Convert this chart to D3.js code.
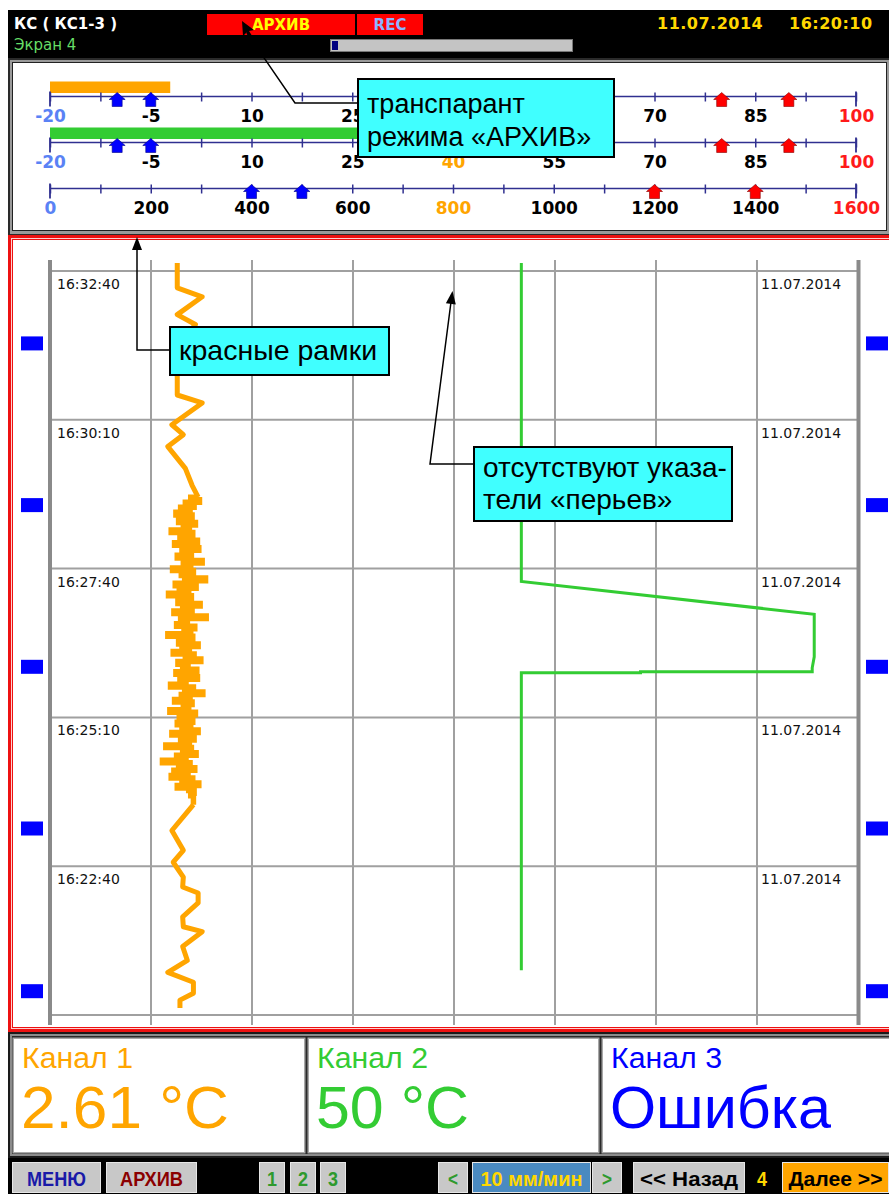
<!DOCTYPE html>
<html><head><meta charset="utf-8">
<script src="https://cdn.jsdelivr.net/npm/d3@7"></script>
<style>body{margin:0;background:#fff}svg{display:block}</style>
</head><body><svg id="c" width="889" height="1194"></svg>
<script>
// ---------------- DATA ----------------
const headerTitle = "КС ( КС1-3 )";
const headerScreen = "Экран 4";
const headerDate = "11.07.2014";
const headerTime = "16:20:10";

// bar scales (top panel)
const scaleDomains = [[-20, 100], [-20, 100], [0, 1600]];
const scaleLabels = [
  [-20, -5, 10, 25, 40, 55, 70, 85, 100],
  [-20, -5, 10, 25, 40, 55, 70, 85, 100],
  [0, 200, 400, 600, 800, 1000, 1200, 1400, 1600]
];
const scaleMinorStep = [7.5, 7.5, 100];
const lowSetpoints = [[-10, -5], [-10, -5], [400, 500]];
const highSetpoints = [[80, 90], [80, 90], [1200, 1400]];
const barValues = [-2.1, 50];            // channel bars (scale 1, scale 2)
const barColors = ["#ffa500", "#33cc33"];

// trend chart
const valueDomain = [-20, 100];
const gridValues = [-5, 10, 25, 40, 55, 70, 85];
const rowTimes = [0, 150, 300, 450, 600, 750];            // seconds after 16:20:10
const rowLabelTimes = [750, 600, 450, 300, 150];
const rowTimeLabels = ["16:32:40", "16:30:10", "16:27:40", "16:25:10", "16:22:40"];
const rowDateLabel = "11.07.2014";
const markerTimes = [677, 514, 351, 188, 24];

// channel 1 (orange): [time s, value]
const ch1Upper = [[758,-1.1],[733,-1.1],[724,2.6],[706,-1.1],[696,1.6],[675,-1.2],[642,-1.1],[625,-1.1],
  [617,2.6],[595,-1.9],[585,-0.2],[573,-2.5],[551,0.1],[534,1.1],[522,2.0]];
const ch1NoiseStart = 522, ch1NoiseStep = 2.55;
const ch1Noise = [
  1.8, 0.9, 2.2, 0.1, 1.4, -0.6, 0.8, -1.3, 1.1, 0.2,
  -0.9, 1.6, -0.2, 0.7, -2.0, 1.2, 0.4, -0.7, 1.9, -1.5,
  0.6, 2.1, -0.4, 1.0, -1.1, 0.3, 2.6, -0.2, 0.9, -1.8,
  1.3, -0.5, 0.5, 3.1, 0.0, -1.4, 1.7, -0.8, 0.6, -2.4,
  1.0, 0.2, -1.0, 2.3, -0.3, 1.1, -1.6, 0.8, 3.2, -0.6,
  0.4, -1.2, 1.5, -0.1, 0.9, -2.5, 1.2, 0.3, -0.9, 2.0,
  -0.4, 0.7, -1.7, 1.4, 0.1, 2.4, -1.0, 0.5, -0.3, 1.8,
  -1.3, 0.6, 1.9, -0.7, 0.2, -2.1, 1.3, 0.0, 2.7, -0.5,
  0.8, -1.5, 1.1, -0.2, 0.6, -2.2, 1.6, -0.8, 0.3, 1.2,
  -1.1, 0.9, -0.4, 2.0, -1.9, 0.4, 1.4, -0.6, 0.7, -2.8,
  1.0, -0.3, 1.7, -1.2, 0.2, -3.3, 0.8, -0.9, 1.5, -1.6,
  0.5, -2.0, 1.2, -0.4, 2.1, -1.1, 0.6, 1.4, 0.9, 1.3];
const ch1Lower = [[212,1.3],[186,-1.9],[166,-0.2],[154,-1.7],[139,-0.2],[129,-0.3],[123,2.0],[113,2.0],
  [99,-0.3],[89,-0.2],[84,2.6],[69,-0.3],[55,0.4],[43,-2.5],[33,1.3],[22,1.3],[15,-0.7],[7,-0.7]];
// channel 2 (green)
const ch2 = [[758,50],[437,50],[404,93.5],[361,93.5],[350,93.2],[346,93.2],[346,67.7],[345,67.7],[345,50],[45,50]];

// bottom channel panels
const chNames = ["Канал 1", "Канал 2", "Канал 3"];
const chValues = ["2.61 °C", "50 °C", "Ошибка"];
const chColors = ["#ffa500", "#33cc33", "#0000ff"];

// buttons
const buttons = [
  {t:"МЕНЮ", x0:12, x1:101, bg:"#c8c8c8", c:"#1a1aa8", tw:59},
  {t:"АРХИВ", x0:106, x1:197, bg:"#c8c8c8", c:"#8b0000", tw:63},
  {t:"1", x0:259, x1:285, bg:"#c8c8c8", c:"#2e9a2e", tw:10},
  {t:"2", x0:290, x1:316, bg:"#c8c8c8", c:"#2e9a2e", tw:10},
  {t:"3", x0:320, x1:346, bg:"#c8c8c8", c:"#2e9a2e", tw:10},
  {t:"<", x0:438, x1:468, bg:"#c8c8c8", c:"#2e9a2e", tw:10},
  {t:"10 мм/мин", x0:472, x1:591, bg:"#4a8ac0", c:"#ffd700", tw:102},
  {t:">", x0:592, x1:622, bg:"#c8c8c8", c:"#2e9a2e", tw:10},
  {t:"<< Назад", x0:633, x1:745, bg:"#c8c8c8", c:"#000", tw:98},
  {t:"4", x0:752, x1:772, bg:"none", c:"#ffd700", tw:10},
  {t:"Далее >>", x0:782, x1:889, bg:"#ffa500", c:"#000", tw:94}
];

// ---------------- DRAW ----------------
const svg = d3.select("#c");
const FONT = "DejaVu Sans";
const ARIAL = "Liberation Sans, Arial";

svg.append("rect").attr("width", 889).attr("height", 1194).attr("fill", "#fff");
svg.append("rect").attr("x", 8).attr("y", 10).attr("width", 881).attr("height", 1184).attr("fill", "#000");

// header
svg.append("text").attr("x", 14).attr("y", 29).attr("fill", "#fff").attr("font-family", FONT)
  .attr("font-weight", "bold").attr("font-size", 15).text(headerTitle);
svg.append("text").attr("x", 14).attr("y", 50).attr("fill", "#66dd66").attr("font-family", FONT)
  .attr("font-size", 15).text(headerScreen);
svg.append("rect").attr("x", 207).attr("y", 14).attr("width", 148).attr("height", 21).attr("fill", "#ff0000");
svg.append("rect").attr("x", 357).attr("y", 14).attr("width", 66).attr("height", 21).attr("fill", "#ff0000");
svg.append("text").attr("x", 281).attr("y", 30).attr("text-anchor", "middle").attr("fill", "#ffff00")
  .attr("font-family", FONT).attr("font-weight", "bold").attr("font-size", 15).text("АРХИВ");
svg.append("text").attr("x", 390).attr("y", 30).attr("text-anchor", "middle").attr("fill", "#8cb4ff")
  .attr("font-family", FONT).attr("font-weight", "bold").attr("font-size", 15).text("REC");
svg.append("rect").attr("x", 330.5).attr("y", 39.5).attr("width", 242).attr("height", 12).attr("fill", "#c4c4c4").attr("stroke", "#777");
svg.append("rect").attr("x", 332).attr("y", 41).attr("width", 6).attr("height", 9).attr("fill", "#000080");
svg.append("text").attr("x", 657).attr("y", 29).attr("fill", "#ffd700").attr("font-family", FONT)
  .attr("font-weight", "bold").attr("font-size", 16).attr("letter-spacing", 0.5).text(headerDate);
svg.append("text").attr("x", 789).attr("y", 29).attr("fill", "#ffd700").attr("font-family", FONT)
  .attr("font-weight", "bold").attr("font-size", 16).attr("letter-spacing", 0.5).text(headerTime);

// scales panel frame
svg.append("rect").attr("x", 8).attr("y", 58).attr("width", 881).attr("height", 178).attr("fill", "#2a2a2a");
svg.append("rect").attr("x", 10).attr("y", 60).attr("width", 879).attr("height", 174).attr("fill", "#9a9a9a");
svg.append("rect").attr("x", 12.5).attr("y", 62.5).attr("width", 874).attr("height", 168).attr("fill", "#fff").attr("stroke", "#222");

const axisY = [96.5, 142.5, 188.5];
const navy = "#303090";
const arrowPath = "M0,-4 L8,3 L5,3 L5,10 L-5,10 L-5,3 L-8,3 Z";
const sp = svg.append("g");
scaleDomains.forEach((dom, i) => {
  const x = d3.scaleLinear().domain(dom).range([50, 856]);
  const y = axisY[i];
  if (i < 2) {
    sp.append("rect").attr("x", x(dom[0])).attr("y", y - 15).attr("width", x(barValues[i]) - x(dom[0]))
      .attr("height", 11.5).attr("fill", barColors[i]);
  }
  sp.append("line").attr("x1", x(dom[0])).attr("x2", x(dom[1])).attr("y1", y).attr("y2", y)
    .attr("stroke", navy).attr("stroke-width", 1.5);
  const minor = d3.range(dom[0], dom[1] + 1e-6, scaleMinorStep[i]);
  const tg = sp.append("g").attr("transform", `translate(0,${y - 4})`)
    .call(d3.axisBottom(x).tickValues(minor).tickSize(9).tickFormat(""));
  tg.select(".domain").remove();
  tg.selectAll("line").attr("stroke", navy).attr("stroke-width", 1.5);
  [dom[0], dom[1]].forEach(v => sp.append("line").attr("x1", x(v)).attr("x2", x(v))
    .attr("y1", y - 5).attr("y2", y + 10).attr("stroke", navy).attr("stroke-width", 1.8));
  const lg = sp.append("g").attr("transform", `translate(0,${y})`)
    .call(d3.axisBottom(x).tickValues(scaleLabels[i]).tickSize(0).tickFormat(d => String(d)));
  lg.select(".domain").remove();
  const n = scaleLabels[i].length;
  lg.selectAll("text").attr("y", 25.5).attr("dy", 0).attr("font-family", FONT).attr("font-size", 17)
    .attr("font-weight", "bold")
    .attr("fill", (d, j) => j === 0 ? "#5a82f5" : j === n - 1 ? "#ff1a1a" : j === 4 ? "#ffa500" : "#000");
  lowSetpoints[i].forEach(v => sp.append("path").attr("d", arrowPath)
    .attr("transform", `translate(${x(v)},${y})`).attr("fill", "#0000ff").attr("stroke", "#00008a").attr("stroke-width", 0.6));
  highSetpoints[i].forEach(v => sp.append("path").attr("d", arrowPath)
    .attr("transform", `translate(${x(v)},${y})`).attr("fill", "#ff0000").attr("stroke", "#8a0000").attr("stroke-width", 0.6));
});

// chart panel frame (red)
svg.append("rect").attr("x", 8).attr("y", 235).attr("width", 881).attr("height", 797).attr("fill", "#ee1111");
svg.append("rect").attr("x", 11).attr("y", 238).attr("width", 878).attr("height", 791).attr("fill", "#ffd0d0");
svg.append("rect").attr("x", 12).attr("y", 239).attr("width", 877).attr("height", 789).attr("fill", "#ee1111");
svg.append("rect").attr("x", 13).attr("y", 240).attr("width", 876).attr("height", 787).attr("fill", "#fff");

const xS = d3.scaleLinear().domain(valueDomain).range([50, 858]);
const yS = d3.scaleLinear().domain([0, 750]).range([1015, 271]);
const topT = 761, botT = -10;
const ch = svg.append("g");
// vertical grid
ch.append("g").selectAll("line").data(gridValues).join("line")
  .attr("x1", d => xS(d)).attr("x2", d => xS(d)).attr("y1", yS(topT)).attr("y2", yS(botT))
  .attr("stroke", "#a0a0a0").attr("stroke-width", 2);
// horizontal grid
ch.append("g").selectAll("line").data(rowTimes).join("line")
  .attr("x1", xS(-20)).attr("x2", xS(100)).attr("y1", d => yS(d)).attr("y2", d => yS(d))
  .attr("stroke", "#a0a0a0").attr("stroke-width", 2);
// thick side axes
[-20, 100].forEach(v => ch.append("line").attr("x1", xS(v) + (v > 0 ? 0.5 : 0)).attr("x2", xS(v) + (v > 0 ? 0.5 : 0))
  .attr("y1", yS(topT)).attr("y2", yS(botT)).attr("stroke", "#8a8a8a").attr("stroke-width", 4));
// row labels
rowLabelTimes.forEach((t, i) => {
  ch.append("text").attr("x", 57).attr("y", yS(t) + 18).attr("font-family", FONT).attr("font-size", 14)
    .attr("fill", "#111").text(rowTimeLabels[i]);
  ch.append("text").attr("x", 761).attr("y", yS(t) + 18).attr("font-family", FONT).attr("font-size", 14)
    .attr("fill", "#111").text(rowDateLabel);
});
// markers
markerTimes.forEach(t => {
  ch.append("rect").attr("x", 21).attr("y", yS(t) - 7).attr("width", 22).attr("height", 14).attr("fill", "#0000ff");
  ch.append("rect").attr("x", 866).attr("y", yS(t) - 7).attr("width", 22).attr("height", 14).attr("fill", "#0000ff");
});
// traces
const line = d3.line().x(d => xS(d[1])).y(d => yS(d[0]));
const noisePts = ch1Noise.map((v, i) => [ch1NoiseStart - i * ch1NoiseStep, v]);
ch.append("path").attr("d", line(ch1Upper)).attr("fill", "none").attr("stroke", "#ffa500").attr("stroke-width", 5).attr("stroke-linejoin", "round");
ch.append("path").attr("d", line.curve(d3.curveStepAfter)(noisePts.concat([ch1Lower[0]])))
  .attr("fill", "none").attr("stroke", "#ffa500").attr("stroke-width", 5.5);
line.curve(d3.curveLinear);
ch.append("path").attr("d", line(ch1Lower)).attr("fill", "none").attr("stroke", "#ffa500").attr("stroke-width", 5).attr("stroke-linejoin", "round");
ch.append("path").attr("d", line(ch2)).attr("fill", "none").attr("stroke", "#33cc33").attr("stroke-width", 3);

// bottom channel panel
svg.append("rect").attr("x", 8).attr("y", 1032).attr("width", 881).attr("height", 126).attr("fill", "#1a1a1a");
svg.append("rect").attr("x", 10).attr("y", 1034).attr("width", 879).attr("height", 122).attr("fill", "#8c8c8c");
svg.append("rect").attr("x", 12).attr("y", 1036).attr("width", 877).attr("height", 118).attr("fill", "#2a2a2a");
const cellX = [[14, 304], [309, 598], [603, 889]];
cellX.forEach((c, i) => {
  svg.append("rect").attr("x", c[0] - 1.5).attr("y", 1037.5).attr("width", c[1] - c[0] + 3).attr("height", 116).attr("fill", "#a8a8a8");
  svg.append("rect").attr("x", c[0]).attr("y", 1039).attr("width", c[1] - c[0]).attr("height", 113).attr("fill", "#fff");
  svg.append("text").attr("x", c[0] + 8).attr("y", 1068).attr("font-family", ARIAL).attr("font-size", 29)
    .attr("fill", chColors[i]).attr("textLength", 111).attr("lengthAdjust", "spacingAndGlyphs").text(chNames[i]);
  svg.append("text").attr("x", c[0] + 7).attr("y", 1128).attr("font-family", ARIAL).attr("font-size", 60)
    .attr("fill", chColors[i]).attr("textLength", [208, 153, 221][i]).attr("lengthAdjust", "spacingAndGlyphs").text(chValues[i]);
});

// buttons
buttons.forEach(b => {
  if (b.bg !== "none") {
    svg.append("rect").attr("x", b.x0 + 0.5).attr("y", 1162.5).attr("width", b.x1 - b.x0 - 1).attr("height", 30)
      .attr("fill", b.bg).attr("stroke", "#e6e6e6");
  }
  svg.append("text").attr("x", (b.x0 + b.x1) / 2).attr("y", 1186).attr("text-anchor", "middle")
    .attr("font-family", ARIAL).attr("font-size", 21).attr("font-weight", "bold").attr("fill", b.c)
    .attr("textLength", b.tw).attr("lengthAdjust", "spacingAndGlyphs").text(b.t);
});

// annotations
const ann = svg.append("g");
function arrowHead(x, y, ang) {
  ann.append("path").attr("d", "M0,0 L-5,13 L5,13 Z").attr("fill", "#000")
    .attr("transform", `translate(${x},${y}) rotate(${ang})`);
}
// cursor
ann.append("path").attr("d", "M242,21 L243,36 L246.5,32.5 L250,38 L252.5,36.5 L249,31 L254,30 Z").attr("fill", "#000");
ann.append("polyline").attr("points", "358,103 295,103 247,33").attr("fill", "none").attr("stroke", "#000").attr("stroke-width", 1.5);
ann.append("polyline").attr("points", "170,350 137,350 137,248").attr("fill", "none").attr("stroke", "#000").attr("stroke-width", 1.5);
arrowHead(137, 237, 0);
ann.append("polyline").attr("points", "474,464 430,464 451,302").attr("fill", "none").attr("stroke", "#000").attr("stroke-width", 1.5);
arrowHead(452.5, 291, 7.4);

const boxes = [
  {x: 358, y: 79, w: 256, h: 78, fs: 27, lines: ["транспарант", "режима «АРХИВ»"], by: [113, 146]},
  {x: 170, y: 327, w: 219, h: 48, fs: 28.5, lines: ["красные рамки"], by: [360]},
  {x: 474, y: 447, w: 258, h: 74, fs: 28, lines: ["отсутствуют указа-", "тели «перьев»"], by: [477, 509]}
];
boxes.forEach(b => {
  ann.append("rect").attr("x", b.x).attr("y", b.y).attr("width", b.w).attr("height", b.h)
    .attr("fill", "#40ffff").attr("stroke", "#000").attr("stroke-width", 2);
  b.lines.forEach((l, i) => ann.append("text").attr("x", b.x + 9).attr("y", b.by[i])
    .attr("font-family", ARIAL).attr("font-size", b.fs).attr("fill", "#000").text(l));
});
</script>
</body></html>
